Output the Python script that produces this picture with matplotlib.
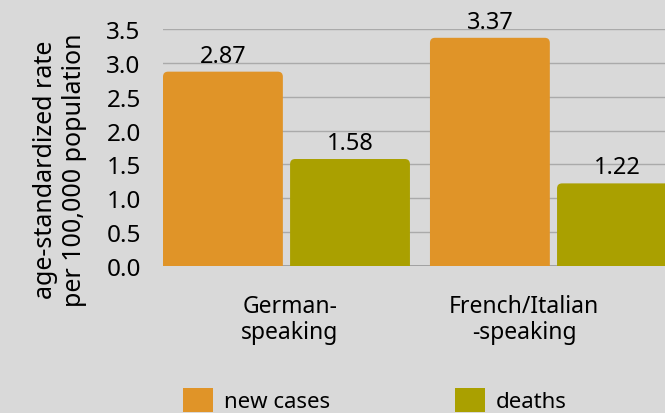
import numpy as np
import matplotlib.pyplot as plt
from matplotlib.patches import FancyBboxPatch, Patch

plt.rcParams['font.family'] = ['Noto Sans', 'DejaVu Sans']

# Data
regions = ['German-\nspeaking', 'French/Italian\n-speaking']
new_cases = [2.87, 3.37]
deaths = [1.58, 1.22]
series_names = ['new cases', 'deaths']

bg = '#d9d9d9'
c_cases = '#e09428'
c_deaths = '#aaa000'

fig = plt.figure(figsize=(6.65, 4.14), dpi=100, facecolor=bg)
ax = fig.add_axes([163 / 665, 1 - 267 / 414, 537 / 665, 237 / 414], facecolor=bg)

x = np.arange(len(regions))
w = 0.449
off = 0.238
bars1 = ax.bar(x - off, new_cases, w, color=c_cases)
bars2 = ax.bar(x + off, deaths, w, color=c_deaths)

# swap plain bars for ones with rounded tops
for bars in (bars1, bars2):
    for b in bars:
        b.set_visible(False)
        p = FancyBboxPatch((b.get_x(), -0.2), b.get_width(), b.get_height() + 0.2,
                           boxstyle='round,pad=0,rounding_size=0.019',
                           mutation_aspect=3.96, facecolor=b.get_facecolor(),
                           edgecolor='none', zorder=3)
        ax.add_patch(p)
        ax.text(b.get_x() + b.get_width() / 2, b.get_height() + 0.06,
                f'{b.get_height():.2f}', ha='center', va='bottom',
                fontsize=17, clip_on=False, zorder=4)

ax.set_ylim(0, 3.5)
ax.set_xlim(-0.4625, 1.549)
ax.set_yticks(np.arange(0, 3.51, 0.5))
ax.yaxis.grid(True, color='#aaaaaa', linewidth=1)
ax.set_axisbelow(True)
for s in ax.spines.values():
    s.set_visible(False)
ax.axhline(0, color='#999999', linewidth=1.2, zorder=2)

ax.set_xticks([0.013, 0.89])
ax.set_xticklabels(regions, fontsize=16.5, linespacing=1.15)
ax.tick_params(axis='x', length=0, pad=20)
ax.tick_params(axis='y', length=0, pad=16, labelsize=17.5)

ax.set_ylabel('age-standardized rate\nper 100,000 population', fontsize=18,
              linespacing=1.2)
ax.yaxis.set_label_coords(-0.142, 0.41)

handles = [Patch(facecolor=c_cases), Patch(facecolor=c_deaths)]
fig.legend(handles, series_names, loc='center left', ncol=2,
           bbox_to_anchor=(183 / 665, 1 - 401 / 414), frameon=False,
           fontsize=16, handlelength=1.35, handleheight=1.35,
           handletextpad=0.5, columnspacing=5.6, borderpad=0, borderaxespad=0)

fig.savefig('out.png', dpi=100, facecolor=bg)
